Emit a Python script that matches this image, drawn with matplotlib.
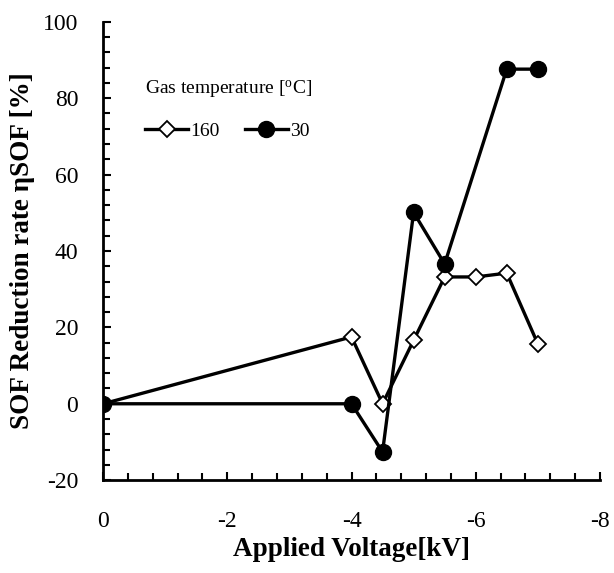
import matplotlib.pyplot as plt
from matplotlib.ticker import MultipleLocator

plt.rcParams['font.family'] = ['Liberation Serif', 'DejaVu Serif']
plt.rcParams['mathtext.fontset'] = 'custom'
plt.rcParams['mathtext.rm'] = 'Liberation Serif'
plt.rcParams['axes.unicode_minus'] = False

# Applied voltage [kV] and SOF reduction rate [%]
volt_160 = [0, -4, -4.5, -5, -5.5, -6, -6.5, -7]
sof_160 = [0, 17.5, 0, 16.6, 33.2, 33.2, 34.2, 15.7]

volt_30 = [0, -4, -4.5, -5, -5.5, -6.5, -7]
sof_30 = [0, 0, -12.6, 50.1, 36.6, 87.6, 87.6]

fig = plt.figure(figsize=(6.14, 5.73), dpi=100)
ax = fig.add_axes([0.168, 0.162, 0.809, 0.8])

ax.plot(volt_160, sof_160, color='black', lw=2.4, marker='D', ms=8,
        mfc='white', mec='black', mew=1.3, label='160')
ax.plot(volt_30, sof_30, color='black', lw=2.4, marker='o', ms=11.5,
        mfc='black', mec='black', label='30')

ax.set_xlim(0, -8)
ax.set_ylim(-20, 100)
ax.xaxis.set_major_locator(MultipleLocator(2))
ax.xaxis.set_minor_locator(MultipleLocator(0.4))
ax.yaxis.set_major_locator(MultipleLocator(20))
ax.yaxis.set_minor_locator(MultipleLocator(4))
ax.tick_params(which='both', direction='in', width=1.5, labelsize=17)
ax.tick_params(which='major', length=6)
ax.tick_params(which='minor', length=5)
ax.tick_params(axis='x', pad=22)
ax.tick_params(axis='y', pad=18)
for s in ['top', 'right']:
    ax.spines[s].set_visible(False)
for s in ['left', 'bottom']:
    ax.spines[s].set_linewidth(2)

ax.set_xlabel('Applied Voltage[kV]', fontsize=19.5, fontweight='bold')
ax.set_ylabel('SOF Reduction rate ηSOF [%]', fontsize=19.5, fontweight='bold')
ax.xaxis.set_label_coords(0.5, -0.125)
ax.yaxis.set_label_coords(-0.163, 0.50)
ax.yaxis.label.set_va('center')

leg = ax.legend(title=r'Gas temperature [$\mathregular{^o}$C]', ncol=2, frameon=False,
                loc='upper left', bbox_to_anchor=(0.05, 0.915), fontsize=14,
                title_fontsize=14, handlelength=2.2, handletextpad=0.1,
                columnspacing=1.3, alignment='left')
leg._legend_box.sep = 16

fig.savefig('out.png', dpi=100)
